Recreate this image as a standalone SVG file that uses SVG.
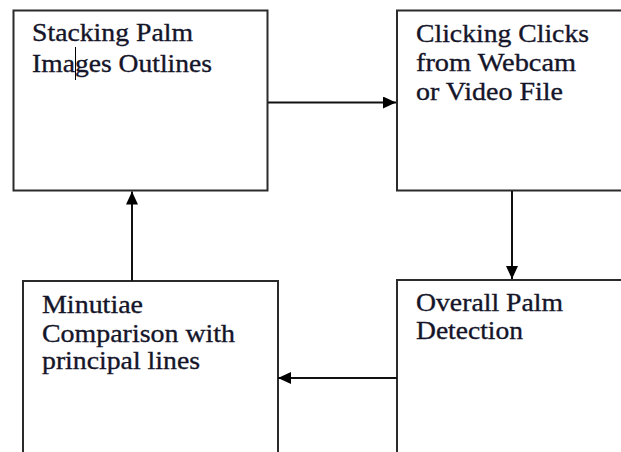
<svg xmlns="http://www.w3.org/2000/svg" width="621" height="452" viewBox="0 0 621 452">
  <style>
    .box { fill: #ffffff; stroke: #2b2b2b; stroke-width: 2; }
    .lbl { font-family: "Liberation Serif", "Times New Roman", serif; font-size: 26px; fill: #15152a; stroke: #15152a; stroke-width: 0.35; }
    .edge { stroke: #111111; stroke-width: 2; fill: none; marker-end: url(#head); }
  </style>
  <defs>
    <marker id="head" viewBox="0 0 13 12" refX="13" refY="6" markerWidth="13" markerHeight="12" markerUnits="userSpaceOnUse" orient="auto">
      <path d="M0,0 L13,6 L0,12 Z" fill="#000000"/>
    </marker>
  </defs>
  <rect width="621" height="452" fill="#ffffff"/>

  <g id="node-stacking">
    <rect class="box" x="13.5" y="10.5" width="254" height="180"/>
    <text class="lbl" x="32" y="41" textLength="161" lengthAdjust="spacingAndGlyphs">Stacking Palm</text>
    <text class="lbl" x="32" y="72" textLength="180" lengthAdjust="spacingAndGlyphs">Images Outlines</text>
    <line x1="75.5" y1="47" x2="75.5" y2="80" stroke="#000000" stroke-width="1"/>
  </g>

  <g id="node-clicking">
    <rect class="box" x="397" y="10.5" width="240" height="180"/>
    <text class="lbl" x="416" y="41.5" textLength="173" lengthAdjust="spacingAndGlyphs">Clicking Clicks</text>
    <text class="lbl" x="416" y="71" textLength="160" lengthAdjust="spacingAndGlyphs">from Webcam</text>
    <text class="lbl" x="416" y="100" textLength="147" lengthAdjust="spacingAndGlyphs">or Video File</text>
  </g>

  <g id="node-detection">
    <rect class="box" x="397" y="280" width="240" height="200"/>
    <text class="lbl" x="416" y="311" textLength="147" lengthAdjust="spacingAndGlyphs">Overall Palm</text>
    <text class="lbl" x="416" y="339" textLength="107" lengthAdjust="spacingAndGlyphs">Detection</text>
  </g>

  <g id="node-minutiae">
    <rect class="box" x="23" y="281" width="255" height="200"/>
    <text class="lbl" x="42" y="313" textLength="101" lengthAdjust="spacingAndGlyphs">Minutiae</text>
    <text class="lbl" x="42" y="342" textLength="193" lengthAdjust="spacingAndGlyphs">Comparison with</text>
    <text class="lbl" x="42" y="369" textLength="158" lengthAdjust="spacingAndGlyphs">principal lines</text>
  </g>

  <g id="connectors">
    <line class="edge" x1="268" y1="102.5" x2="396" y2="102.5"/>
    <line class="edge" x1="512" y1="191" x2="512" y2="279"/>
    <line class="edge" x1="397" y1="378" x2="278" y2="378"/>
    <line class="edge" x1="132" y1="281" x2="132" y2="191.5"/>
  </g>
</svg>
